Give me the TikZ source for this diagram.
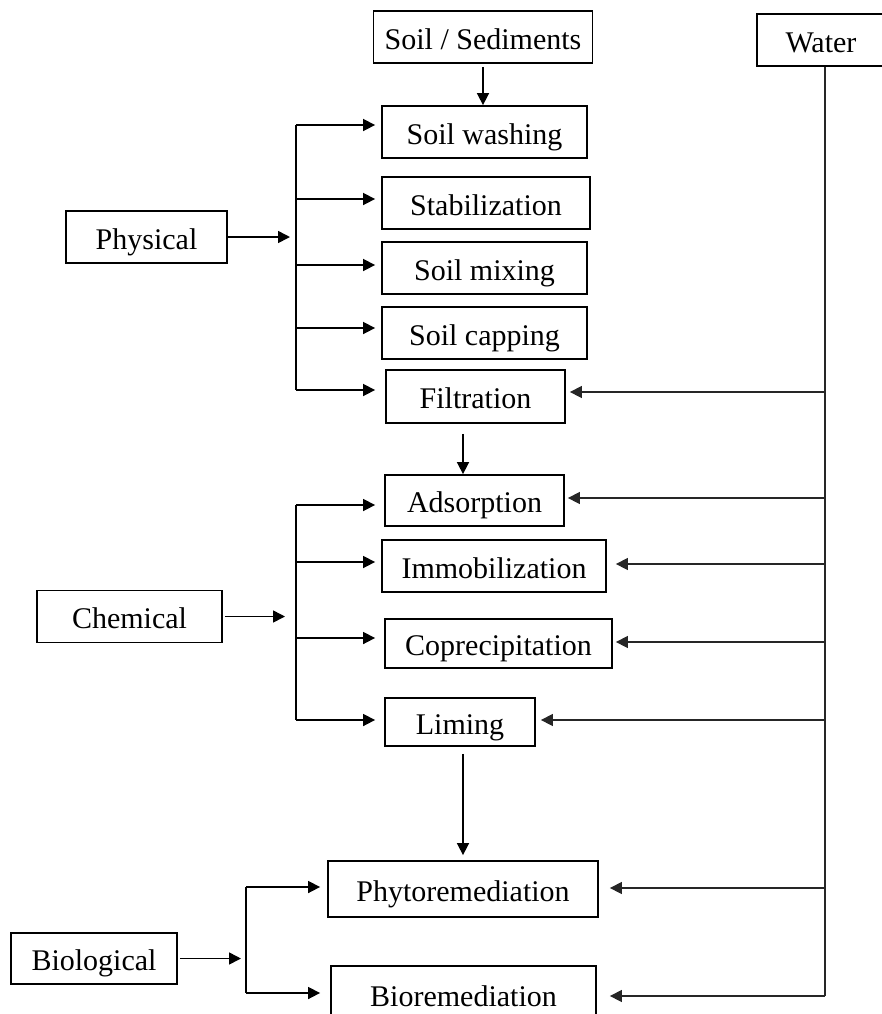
\documentclass[tikz,border=0pt]{standalone}
\usepackage{fontspec}
\setmainfont{Liberation Serif}
\usetikzlibrary{arrows.meta}
\tikzset{
  box/.style={draw, rectangle, line width=0.9pt, minimum height=26pt, inner sep=0pt,
    text height=13pt, text depth=1pt, font=\fontsize{15}{18}\selectfont},
  feed/.style={-{Triangle[length=6pt,width=6pt]}, line width=0.8pt},
  bus/.style={line width=0.8pt},
  supply/.style={line width=0.7pt, black!85}
}
\begin{document}
\begin{tikzpicture}[x=0.5pt, y=-0.5pt]
  \clip (0,0) rectangle (882,1014);
  % Sources
  \node[box, minimum width=109.5pt] (soil) at (483,37) {Soil / Sediments};
  \node[box, minimum width=64pt] (water) at (821,40) {Water};
  % Physical methods
  \node[box, minimum width=80.5pt] (phys) at (146.5,237) {Physical};
  \node[box, minimum width=102.5pt] (wash) at (484.5,132) {Soil washing};
  \node[box, minimum width=104pt] (stab) at (486,203) {Stabilization};
  \node[box, minimum width=102.5pt] (mix) at (484.5,268) {Soil mixing};
  \node[box, minimum width=102.5pt] (cap) at (484.5,333) {Soil capping};
  \node[box, minimum width=89.5pt, minimum height=26.5pt] (filt) at (475.5,396.5) {Filtration};
  % Chemical methods
  \node[box, minimum width=92.5pt] (chem) at (129.5,616.5) {Chemical};
  \node[box, minimum width=89.5pt, minimum height=25.5pt] (ads) at (474.5,500.5) {Adsorption};
  \node[box, minimum width=112pt] (immo) at (494,566) {Immobilization};
  \node[box, minimum width=113.5pt, minimum height=24.5pt] (copr) at (498.5,643.5) {Coprecipitation};
  \node[box, minimum width=75pt, minimum height=24pt] (lim) at (460,722) {Liming};
  % Biological methods
  \node[box, minimum width=83pt, minimum height=25.5pt] (biol) at (94,958.5) {Biological};
  \node[box, minimum width=135pt, minimum height=28pt] (phyto) at (463,889) {Phytoremediation};
  \node[box, minimum width=132.5pt, minimum height=28pt] (bior) at (463.5,994) {Bioremediation};

  % Main flow
  \draw[feed, shorten <=1.5pt] (soil.south) -- (soil.south |- wash.north);
  \draw[feed, shorten <=5pt] (filt.south -| phyto) -- (ads.north -| phyto);
  \draw[feed, shorten <=3.5pt, shorten >=2.5pt] (lim.south -| phyto) -- (phyto.north);

  % Physical branches
  \coordinate (pbus) at (296,390);
  \foreach \n/\y/\g in {wash/125/3, stab/199/3, mix/265/3, cap/328/3, filt/390/5}{
    \coordinate (p\n) at (296,\y);
    \draw[feed, shorten >=\g pt] (p\n) -- (p\n -| \n.west);
  }
  \draw[bus] (pwash) -- (pbus);
  \draw[feed, shorten >=3pt] (phys.east) -- (phys.east -| pwash);

  % Chemical branches
  \foreach \n/\y/\g in {ads/505/4.5, immo/562/3, copr/638/4.5, lim/720/4.5}{
    \coordinate (c\n) at (296,\y);
    \draw[feed, shorten >=\g pt] (c\n) -- (c\n -| \n.west);
  }
  \draw[bus] (cads) -- (clim);
  \draw[feed, shorten <=1pt, shorten >=5.5pt] (chem.east) -- (chem.east -| cads);

  % Biological branches
  \foreach \n/\y/\g in {phyto/887/3.5, bior/993/5}{
    \coordinate (b\n) at (246,\y);
    \draw[feed, shorten >=\g pt] (b\n) -- (b\n -| \n.west);
  }
  \draw[bus] (bphyto) -- (bbior);
  \draw[feed, shorten <=1pt, shorten >=2.5pt] (biol.east) -- (biol.east -| bphyto);

  % Water supply line
  \coordinate (wend) at (825,996);
  \draw[supply] (water.south -| wend) -- (wend);
  \foreach \n/\y/\g in {filt/392/2, ads/498/1.5, immo/564/4.5, copr/642/1.5, lim/720/2.5, phyto/888/5.5, bior/996/6.5}{
    \coordinate (w\n) at (825,\y);
    \draw[feed, supply, shorten >=\g pt] (w\n) -- (w\n -| \n.east);
  }
\end{tikzpicture}
\end{document}
